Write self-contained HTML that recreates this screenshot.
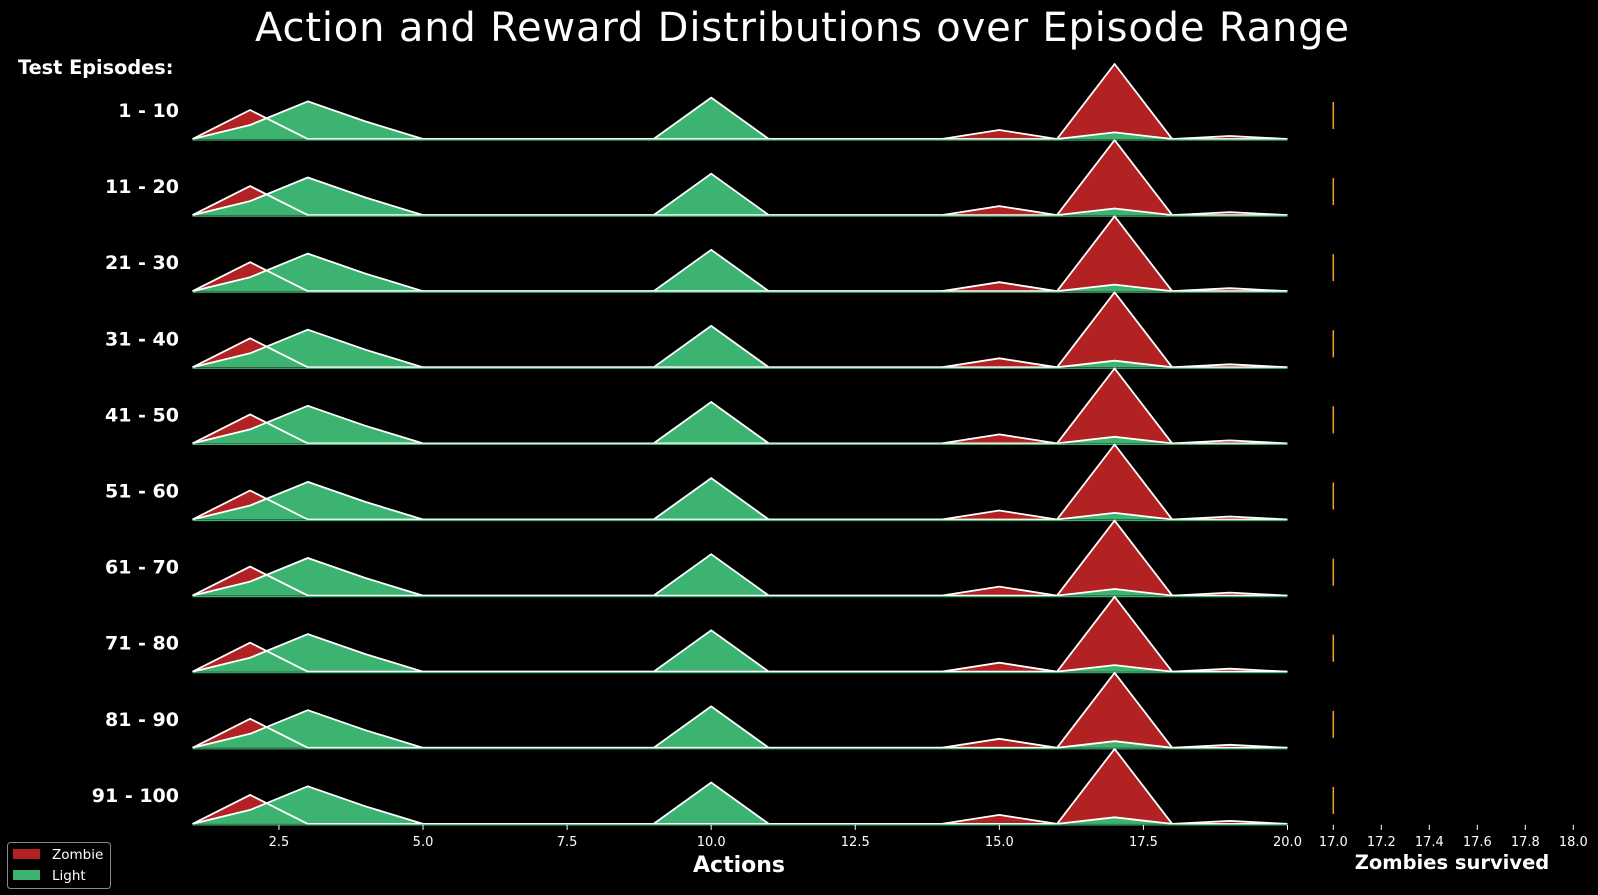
<!DOCTYPE html>
<html><head><meta charset="utf-8"><style>
html,body{margin:0;padding:0;background:#000;}
svg{display:block;font-family:"DejaVu Sans","Liberation Sans",sans-serif;}
</style></head><body>
<svg id="chart" width="1598" height="895" viewBox="0 0 1598 895">
<rect width="1598" height="895" fill="#000"/>
<text x="802" y="41" text-anchor="middle" font-size="40" fill="#fff" textLength="1094">Action and Reward Distributions over Episode Range</text>
<text x="18" y="74" font-size="19.3" font-weight="bold" fill="#fff">Test Episodes:</text>
<g id="rows"></g>
<g id="xaxis"></g>
<g id="raxis"></g>
<text x="739" y="872" text-anchor="middle" font-size="22" font-weight="bold" fill="#fff">Actions</text>
<text x="1452" y="869" text-anchor="middle" font-size="19.5" font-weight="bold" fill="#fff">Zombies survived</text>
<g>
<rect x="7.5" y="842.5" width="103" height="46" rx="3" fill="#000" stroke="#888" stroke-width="1"/>
<rect x="13" y="849" width="27" height="10" fill="#b22222"/>
<text x="52" y="859" font-size="13.5" fill="#fff">Zombie</text>
<rect x="13" y="870" width="27" height="10" fill="#3cb371"/>
<text x="52" y="880" font-size="13.5" fill="#fff">Light</text>
</g>
</svg>
<script>
const rowLabels = ["1 - 10","11 - 20","21 - 30","31 - 40","41 - 50","51 - 60","61 - 70","71 - 80","81 - 90","91 - 100"];
const actions = [1,2,3,4,5,6,7,8,9,10,11,12,13,14,15,16,17,18,19,20];
const zombieDensity = [0,0.29,0,0,0,0,0,0,0,0,0,0,0,0,0.09,0,0.75,0,0.03,0];
const lightDensity  = [0,0.14,0.376,0.176,0,0,0,0,0,0.414,0,0,0,0,0,0,0.066,0,0,0];
const zombiesSurvived = [17,17,17,17,17,17,17,17,17,17];
const xTicks = [2.5,5.0,7.5,10.0,12.5,15.0,17.5,20.0];
const rTicks = [17.0,17.2,17.4,17.6,17.8,18.0];

const NS="http://www.w3.org/2000/svg";
const xs = v => 192.5 + (v-1)*(1287.5-192.5)/19;
const rx = v => 1333.3 + (v-17)*(1573.3-1333.3)/1;
const base = i => 139 + i*76.1;
const ys = (i,d) => base(i) - d*100;
function mk(tag, attrs, parent){const e=document.createElementNS(NS,tag);for(const k in attrs)e.setAttribute(k,attrs[k]);parent.appendChild(e);return e;}

const rows=document.getElementById('rows');
rowLabels.forEach((lab,i)=>{
  const g=mk('g',{},rows);
  
  
  const pts = arr => arr.map((d,j)=>xs(actions[j]).toFixed(1)+','+ys(i,d).toFixed(1)).join(' ');
  const b = base(i).toFixed(1);
  const area = arr => xs(actions[0])+','+b+' '+pts(arr)+' '+xs(actions[actions.length-1])+','+b;
  const zf=mk('polygon',{points:area(zombieDensity),fill:'#b22222'},g);
  
  
  const lf=mk('polygon',{points:area(lightDensity),fill:'#3cb371'},g);
  
  
  const zl=mk('polyline',{points:pts(zombieDensity),fill:'none',stroke:'#fff','stroke-width':1.8,'stroke-linejoin':'round'},g);
  
  
  const ll=mk('polyline',{points:pts(lightDensity),fill:'none',stroke:'#fff','stroke-width':1.8,'stroke-linejoin':'round'},g);
  
  
  const bl=mk('line',{x1:xs(1),x2:xs(20),y1:base(i)+1,y2:base(i)+1,stroke:'#3cb371','stroke-width':1.2},g);
  
  
  const t=mk('text',{x:179,y:base(i)-22,'text-anchor':'end','font-size':19,'font-weight':'bold',fill:'#fff'},g);
  t.textContent=lab;
  
  
  const o=mk('line',{x1:rx(zombiesSurvived[i]),x2:rx(zombiesSurvived[i]),y1:base(i)-37,y2:base(i)-10,stroke:'#f5a623','stroke-width':1.5},g);
  
  
});

const xa=document.getElementById('xaxis');
const yb=base(9)+1;
xTicks.forEach(v=>{
  const l=mk('line',{x1:xs(v),x2:xs(v),y1:yb,y2:yb+5,stroke:'#fff','stroke-width':1},xa);
  
  
  const t=mk('text',{x:xs(v),y:yb+21,'text-anchor':'middle','font-size':13,fill:'#fff'},xa);
  t.textContent=v.toFixed(1);
  
  
});
const ra=document.getElementById('raxis');
rTicks.forEach(v=>{
  const l=mk('line',{x1:rx(v),x2:rx(v),y1:yb,y2:yb+5,stroke:'#fff','stroke-width':1},ra);
  
  
  const t=mk('text',{x:rx(v),y:yb+21,'text-anchor':'middle','font-size':13,fill:'#fff'},ra);
  t.textContent=v.toFixed(1);
  
  
});
</script>
</body></html>
